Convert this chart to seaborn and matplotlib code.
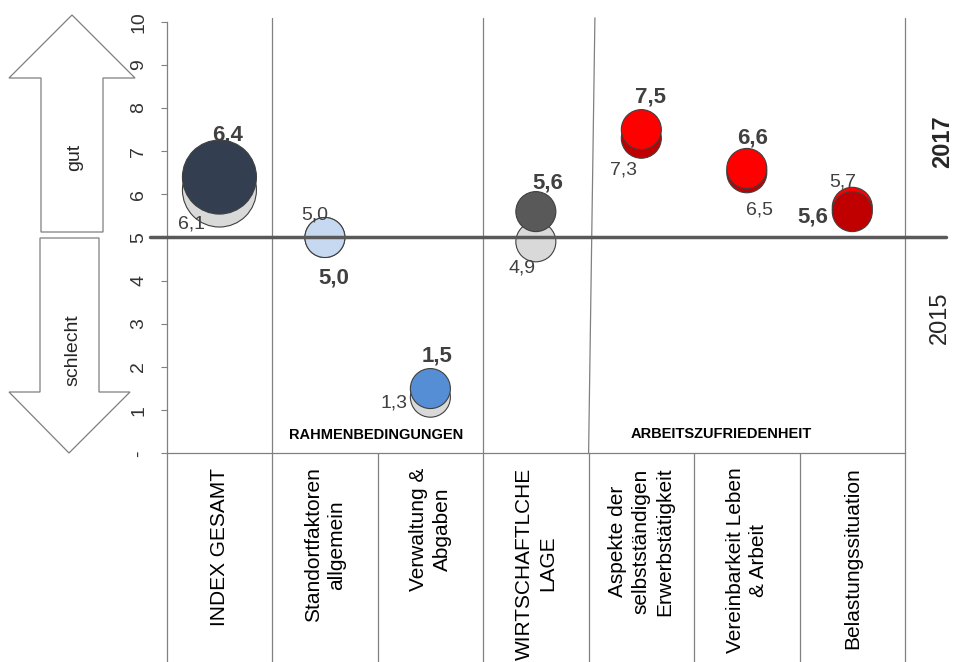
import numpy as np
import pandas as pd
import matplotlib
matplotlib.use("Agg")
import matplotlib.pyplot as plt
import seaborn as sns
from matplotlib.patches import Polygon

# ---------------- data ----------------
categories = [
    "INDEX GESAMT",
    "Standortfaktoren\nallgemein",
    "Verwaltung &\nAbgaben",
    "WIRTSCHAFTLCHE\nLAGE",
    "Aspekte der\nselbstständigen\nErwerbstätigkeit",
    "Vereinbarkeit Leben\n& Arbeit",
    "Belastungssituation",
]
values_2017 = [6.4, 5.0, 1.5, 5.6, 7.5, 6.6, 5.6]
values_2015 = [6.1, 5.0, 1.3, 4.9, 7.3, 6.5, 5.7]
group_labels = ["RAHMENBEDINGUNGEN", "ARBEITSZUFRIEDENHEIT"]
y_ticks = [0, 1, 2, 3, 4, 5, 6, 7, 8, 9, 10]
y_tick_labels = ["-", "1", "2", "3", "4", "5", "6", "7", "8", "9", "10"]
year_labels = ["2017", "2015"]
reference_value = 5

# ---------------- styles ----------------
colors_2017 = ["#333F50", "#C6D9F1", "#558ED5", "#595959", "#FF0000", "#FF0000", "#C00000"]
colors_2015 = ["#D9D9D9", "#D9D9D9", "#D9D9D9", "#D9D9D9", "#C00000", "#C00000", "#FF0000"]
diam_px = [74, 40, 40, 40, 40, 40, 40]
# label offsets in pixels (dx, dy) relative to bubble centre
off_2017 = [(8, 42), (9, -41), (7, 33), (12, 29), (9, 33), (6, 30), (-39, -5)]
off_2015 = [(-28, -34), (-10, 22), (-36, -6), (-14, -26), (-18, -32), (13, -37), (-10, 25)]

W, H = 954, 662
sns.set_style("white")
plt.rcParams["font.family"] = ["Liberation Sans", "DejaVu Sans"]

fig = plt.figure(figsize=(W / 100, H / 100), dpi=100)
ax_left, ax_right, ax_top, ax_bot = 166.7, 905.0, 21.7, 453.3
ax = fig.add_axes([ax_left / W, 1 - ax_bot / H, (ax_right - ax_left) / W, (ax_bot - ax_top) / H])

pos = list(range(len(categories)))
df = pd.DataFrame({"cat": categories, "pos": pos, "v2017": values_2017, "v2015": values_2015})
size_map = {c: (d * 0.72) ** 2 for c, d in zip(categories, diam_px)}

sns.scatterplot(data=df, x="pos", y="v2015", hue="cat", palette=dict(zip(categories, colors_2015)),
                size="cat", sizes=size_map, legend=False, edgecolor="#3F3F3F", linewidth=0.8,
                alpha=1, zorder=3, ax=ax)
sns.scatterplot(data=df, x="pos", y="v2017", hue="cat", palette=dict(zip(categories, colors_2017)),
                size="cat", sizes=size_map, legend=False, edgecolor="#3F3F3F", linewidth=0.8,
                alpha=1, zorder=4, ax=ax)

ax.set_xlim(-0.5, len(categories) - 0.5)
ax.set_ylim(0, 10)
ax.set_xlabel("")
ax.set_ylabel("")
ax.set_xticks([])
ax.set_yticks(y_ticks)
ax.set_yticklabels(y_tick_labels, rotation=90, va="center", fontsize=14, color="#333333")
ax.tick_params(axis="y", length=4, width=0.8, color="#808080", pad=10, left=True)
for s in ["top", "right"]:
    ax.spines[s].set_visible(False)
for s in ["left", "bottom"]:
    ax.spines[s].set_color("#808080")
    ax.spines[s].set_linewidth(0.9)

def fmt(v):
    return f"{v:.1f}".replace(".", ",")

for i in pos:
    ax.annotate(fmt(values_2015[i]), xy=(i, values_2015[i]), xytext=off_2015[i],
                textcoords="offset pixels", ha="center", va="center", fontsize=14,
                color="#404040", zorder=6)
    ax.annotate(fmt(values_2017[i]), xy=(i, values_2017[i]), xytext=off_2017[i],
                textcoords="offset pixels", ha="center", va="center", fontsize=16,
                fontweight="bold", color="#404040", zorder=6)

# reference line at 5
ax.plot([-0.66, 6.89], [reference_value, reference_value], color="#595959", lw=2.5,
        zorder=5, clip_on=False)

# group separators in the plot area
lc = "#808080"
for xb, xt in [(0.5, 0.5), (2.5, 2.5), (3.5, 3.56), (6.5, 6.5)]:
    ax.plot([xb, xt], [0, 10.09], color=lc, lw=0.9, zorder=1, clip_on=False)
# table lines below the axis
for xb in np.arange(-0.5, len(categories), 1.0):
    ax.plot([xb, xb], [0, -5.2], color=lc, lw=0.9, zorder=1, clip_on=False)

# group labels
ax.text(1.49, 0.42, group_labels[0], ha="center", va="center", fontsize=10.5,
        fontweight="bold", color="black")
ax.text(4.76, 0.45, group_labels[1], ha="center", va="center", fontsize=10.5,
        fontweight="bold", color="black")

# category labels in the table
for i, c in enumerate(categories):
    ax.text(i, -0.33, c, rotation=90, ha="center", va="top", multialignment="center",
            fontsize=15, color="black", clip_on=False, linespacing=1.3)

# arrows (figure pixel coords)
def fp(pts):
    return [(x / W, 1 - y / H) for x, y in pts]

up = [(72, 15), (135, 78), (103, 78), (103, 232), (41, 232), (41, 78), (9, 78)]
down = [(40, 238), (99, 238), (99, 392), (130, 392), (69, 453), (9, 392), (40, 392)]
for poly in (up, down):
    fig.patches.append(Polygon(fp(poly), closed=True, facecolor="white", edgecolor="#7F7F7F",
                               lw=0.9, transform=fig.transFigure))
fig.text(75 / W, 1 - 157 / H, "gut", rotation=90, ha="center", va="center", fontsize=14)
fig.text(73 / W, 1 - 350 / H, "schlecht", rotation=90, ha="center", va="center", fontsize=14)

# year labels at the right
fig.text(943 / W, 1 - 142 / H, year_labels[0], rotation=90, ha="center", va="center",
         fontsize=17, fontweight="bold", color="#262626")
fig.text(940 / W, 1 - 318 / H, year_labels[1], rotation=90, ha="center", va="center",
         fontsize=17, color="#262626")

fig.savefig("out.png", dpi=100)
